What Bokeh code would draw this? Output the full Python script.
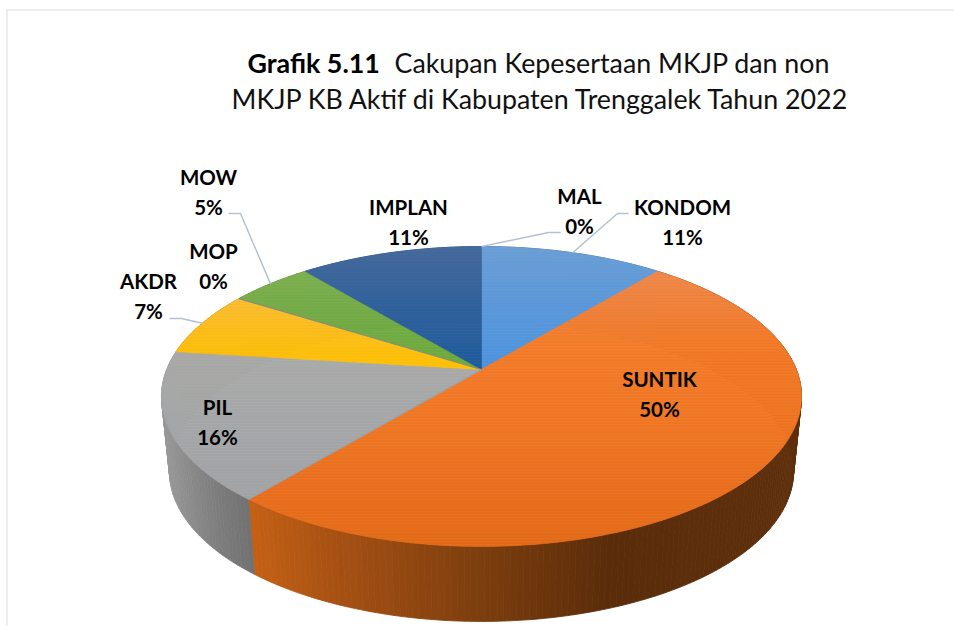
import math
from bokeh.plotting import figure
from bokeh.models import Range1d
from bokeh.core.properties import value
from bokeh.embed import file_html
from bokeh.resources import INLINE

# ---- data ----
categories = ["KONDOM", "SUNTIK", "PIL", "AKDR", "MOP", "MOW", "IMPLAN", "MAL"]
percent = [11, 50, 16, 7, 0, 5, 11, 0]
title_bold = "Grafik 5.11"
title_rest = "Cakupan Kepesertaan MKJP dan non"
title_line2 = "MKJP KB Aktif di Kabupaten Trenggalek Tahun 2022"

# ---- style: top face gradient (evenly spaced colours, upper to lower) ----
top_colors = [("#6c9fd6", "#4b93de"), ("#f08a4c", "#f37b2a", "#f07825", "#ea7020", "#e36a17"),
              ("#a9a9a9", "#a0a3a5"),
              ("#fbbd33", "#fdc000"), ("#999999", "#999999"), ("#7fb052", "#69a93b"),
              ("#466a9c", "#1d5a9c"), ("#5b9bd5", "#5b9bd5")]
# wall gradient stops (x position in page pixels, colour)
wall_stops = [[(481, "#3a6a9a"), (801, "#2a5a8a")],
              [(250, "#c46015"), (340, "#a55013"), (470, "#7f3f0e"), (610, "#5a2c0a"), (801, "#5f300c")],
              [(161, "#989898"), (215, "#7d7d7d"), (255, "#6f6f6f")],
              [(161, "#997300"), (300, "#997300")], [(161, "#777777"), (300, "#777777")],
              [(161, "#4c7a2c"), (300, "#4c7a2c")], [(161, "#1c4a78"), (481, "#1c4a78")],
              [(161, "#3a6a9a"), (481, "#3a6a9a")]]
# label anchors (page pixels), name line centre
label_pos = [(682, 206), (659, 378), (217, 406), (148, 280), (213, 250), (208, 176), (408, 206), (579, 195)]
# leader elbows: slice index -> (text end, elbow)
leaders = {0: ((628, 213), (617, 213)), 3: ((169, 318), (181, 318)),
           5: ((228, 213), (240, 213)), 7: ((560, 232), (548, 232))}

# ---- perspective projection of the unit-circle pie to the page ----
CX, CY = 481.0, 369.0
P_C, P_A, P_D = 0.18, 145.1, 314.8
WALL_SX, WALL_DY = 0.975, 75.0


def proj(angle, r=1.0):
    x, y = r * math.sin(angle), r * math.cos(angle)
    den = 1 + P_C * y
    return CX + P_D * x / den, CY - P_A * y / den


def proj_low(angle):
    px, py = proj(angle)
    return CX + (px - CX) * WALL_SX, py + WALL_DY


def hex2rgb(c):
    return tuple(int(c[i:i + 2], 16) for i in (1, 3, 5))


def mix(c0, c1, t):
    t = max(0.0, min(1.0, t))
    a, b = hex2rgb(c0), hex2rgb(c1)
    return "#%02x%02x%02x" % tuple(round(a[i] + (b[i] - a[i]) * t) for i in range(3))


def ramp(colors, t):
    t = max(0.0, min(1.0, t)) * (len(colors) - 1)
    i = min(int(t), len(colors) - 2)
    return mix(colors[i], colors[i + 1], t - i)


def stop_color(stops, x):
    if x <= stops[0][0]:
        return stops[0][1]
    for (x0, c0), (x1, c1) in zip(stops, stops[1:]):
        if x <= x1:
            return mix(c0, c1, (x - x0) / (x1 - x0))
    return stops[-1][1]


def clip(poly, y, keep_above):
    out = []
    inside = (lambda q: q[1] <= y) if keep_above else (lambda q: q[1] >= y)
    for i, a in enumerate(poly):
        b = poly[(i + 1) % len(poly)]
        ia, ib = inside(a), inside(b)
        if ia:
            out.append(a)
        if ia != ib:
            t = (y - a[1]) / (b[1] - a[1])
            out.append((a[0] + (b[0] - a[0]) * t, y))
    return out


total = sum(percent)
starts = []
acc = 0
for v in percent:
    starts.append(acc / total * 2 * math.pi)
    acc += v
ends = starts[1:] + [2 * math.pi]

p = figure(width=954, height=626, x_range=Range1d(0, 954), y_range=Range1d(626, 0),
           output_backend="svg", toolbar_location=None, min_border=0, outline_line_color=None)
p.axis.visible = False
p.grid.visible = False
p.background_fill_color = "white"
p.border_fill_color = "white"

# frame lines
p.line([6, 954], [9.5, 9.5], line_color="#e3e8f0", line_width=1.5)
p.line([6.5, 6.5], [9.5, 626], line_color="#e3e8f0", line_width=1.5)

# walls
xs, ys, cols = [], [], []
for s, e, stops in zip(starts, ends, wall_stops):
    n = max(1, int(math.degrees(e - s) / 1.0))
    for k in range(n):
        a0, a1 = s + (e - s) * k / n, s + (e - s) * (k + 1) / n
        t0, t1, b1, b0 = proj(a0), proj(a1), proj_low(a1), proj_low(a0)
        xs.append([t0[0], t1[0], b1[0], b0[0]])
        ys.append([t0[1], t1[1], b1[1], b0[1]])
        cols.append(stop_color(stops, (t0[0] + t1[0]) / 2))
p.patches(xs, ys, fill_color=cols, line_color=cols, line_width=0.8)

# top faces, as thin horizontal bands of a vertical gradient
xs, ys, cols = [], [], []
BAND = 3.0
for s, e, colors in zip(starts, ends, top_colors):
    if e - s < 1e-9:
        continue
    n = max(2, int(math.degrees(e - s)))
    poly = [(CX, CY)] + [proj(s + (e - s) * k / n) for k in range(n + 1)]
    ymin, ymax = min(q[1] for q in poly), max(q[1] for q in poly)
    y = ymin
    while y < ymax:
        band = clip(clip(poly, y, False), y + BAND, True)
        if len(band) >= 3:
            xs.append([q[0] for q in band])
            ys.append([q[1] for q in band])
            cols.append(ramp(colors, (y - ymin) / (ymax - ymin)))
        y += BAND
p.patches(xs, ys, fill_color=cols, line_color=cols, line_width=0.7)

# thin seams: the empty MOP slice and the SUNTIK/PIL edge
for idx, col in ((4, "#8a8f7c"), (2, "#9aa3aa")):
    rim = proj(starts[idx])
    p.line([CX, rim[0]], [CY, rim[1]], line_color=col, line_width=1.2)

# leader lines
for idx, (a, b) in leaders.items():
    tip = proj((starts[idx] + ends[idx]) / 2)
    p.line([a[0], b[0], tip[0]], [a[1], b[1], tip[1]], line_color="#b4c1d2", line_width=1.5)

# labels
FONT = value("Lato")
names, pcts, lx, ly, py_ = [], [], [], [], []
for name, v, (x, y) in zip(categories, percent, label_pos):
    names.append(name)
    pcts.append(f"{v}%")
    lx.append(x)
    ly.append(y)
    py_.append(y + 30)
p.text(lx, ly, text=names, text_font=FONT, text_font_style="bold", text_font_size="20.5px",
       text_color="#000000", text_align="center", text_baseline="middle")
p.text(lx, py_, text=pcts, text_font=FONT, text_font_style="bold", text_font_size="20.5px",
       text_color="#000000", text_align="center", text_baseline="middle")

# title
p.text([247], [62], text=[title_bold], text_font=FONT, text_font_style="bold", text_font_size="26.8px",
       text_color="#000000", text_align="left", text_baseline="alphabetic")
p.text([394], [62], text=[title_rest], text_font=FONT, text_font_size="26.8px",
       text_color="#111111", text_align="left", text_baseline="alphabetic")
p.text([231], [98], text=[title_line2], text_font=FONT, text_font_size="26.8px",
       text_color="#111111", text_align="left", text_baseline="alphabetic")

open("out.html", "w").write(file_html(p, INLINE))
